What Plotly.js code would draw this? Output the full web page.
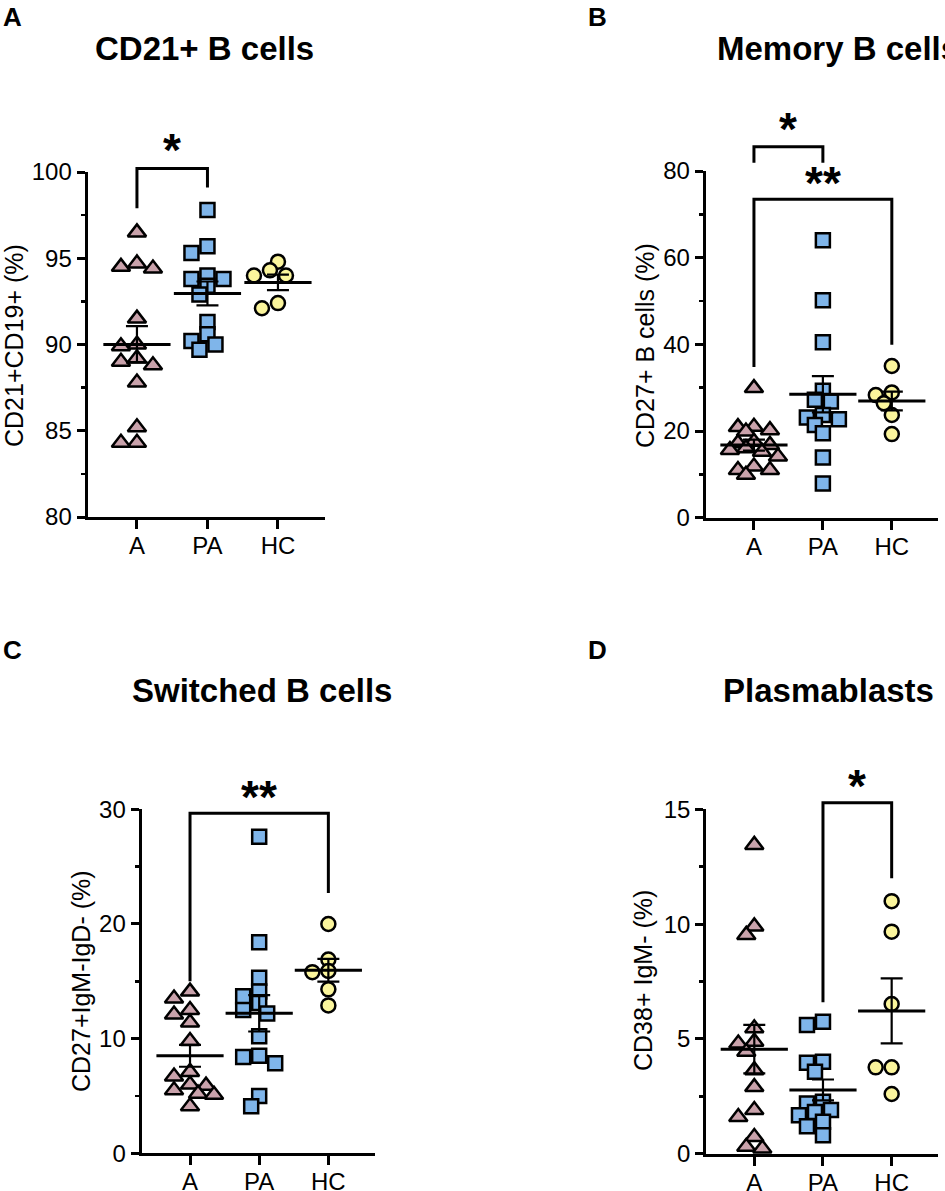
<!DOCTYPE html>
<html><head><meta charset="utf-8">
<script src="https://cdn.plot.ly/plotly-3.0.1.min.js"></script>
<style>html,body{margin:0;padding:0;background:#fff}#chart{width:945px;height:1191px}</style>
</head><body><div id="chart"></div>
<script>
// ---------- data ----------
const groups = ['A', 'PA', 'HC'];

// Panel A: CD21+ B cells  (CD21+CD19+ %)
const cd21_A  = [96.5, 94.7, 94.5, 94.4, 91.5, 90.0, 89.9, 89.2, 89.0, 88.8, 87.8, 85.2, 84.3, 84.3];
const cd21_PA = [97.8, 95.7, 95.3, 94.0, 93.8, 93.8, 93.4, 92.9, 91.3, 90.6, 90.2, 90.0, 89.7];
const cd21_HC = [94.8, 94.3, 94.0, 94.0, 92.4, 92.1];

// Panel B: Memory B cells  (CD27+ B cells %)
const mem_A  = [29.9, 21.0, 20.9, 20.2, 19.9, 17.5, 17.2, 16.8, 16.0, 15.6, 15.2, 14.1, 11.8, 11.0, 11.0, 9.9];
const mem_PA = [64.0, 50.2, 40.5, 29.3, 27.2, 26.8, 23.7, 23.1, 22.7, 21.4, 19.5, 13.9, 7.9];
const mem_HC = [35.0, 28.9, 28.3, 26.4, 23.7, 19.3];

// Panel C: Switched B cells  (CD27+IgM-IgD- %)
const sw_A  = [14.1, 13.5, 12.5, 12.1, 11.4, 9.8, 7.1, 6.7, 6.0, 5.9, 5.5, 5.2, 5.1, 4.1];
const sw_PA = [27.6, 18.4, 15.3, 14.1, 13.7, 13.1, 12.5, 12.2, 10.2, 8.5, 8.4, 7.85, 5.0, 4.1];
const sw_HC = [20.0, 16.9, 15.9, 15.8, 14.3, 12.9];

// Panel D: Plasmablasts  (CD38+ IgM- %)
const pb_A  = [13.45, 9.9, 9.53, 5.46, 4.88, 4.8, 4.44, 3.64, 2.9, 1.9, 1.6, 0.73, 0.3, 0.23];
const pb_PA = [5.75, 5.6, 4.0, 3.96, 3.57, 2.26, 2.19, 1.9, 1.82, 1.68, 1.39, 1.2, 0.8];
const pb_HC = [11.0, 9.67, 6.52, 3.76, 3.76, 2.6];

// y tick values
const yTicksA = [80, 85, 90, 95, 100];  const yMinorA = [82.5, 87.5, 92.5, 97.5];
const yTicksB = [0, 20, 40, 60, 80];    const yMinorB = [10, 30, 50, 70];
const yTicksC = [0, 10, 20, 30];        const yMinorC = [5, 15, 25];
const yTicksD = [0, 5, 10, 15];         const yMinorD = [2.5, 7.5, 12.5];

// significance brackets: group indices, bracket level, leg ends, label level (data units)
const sigA = [{from: 0, to: 1, level: 100.2, end0: 97.9, end1: 99.1, text: '*',  textLevel: 101.6}];
const sigB = [{from: 0, to: 1, level: 85.6,  end0: 81.9, end1: 81.9, text: '*',  textLevel: 91.1},
              {from: 0, to: 2, level: 73.5,  end0: 34.8, end1: 39.9, text: '**', textLevel: 78.6}];
const sigC = [{from: 0, to: 2, level: 29.65, end0: 15.0, end1: 22.7, text: '**', textLevel: 31.6}];
const sigD = [{from: 1, to: 2, level: 15.29, end0: 6.6,  end1: 12.0, text: '*',  textLevel: 16.28}];

// ---------- layout geometry (pixels) ----------
const W = 945, H = 1191;
const FONT = 'Liberation Sans, Arial, Helvetica, sans-serif';
const XR = [-0.7, 2.67];
const panels = [
  {letter: 'A', title: 'CD21+ B cells',   ytitle: 'CD21+CD19+ (%)',    data: [cd21_A, cd21_PA, cd21_HC],
   xL: 87.6, xR: 325.2, yB: 517, yT: 172, ymin: 80, ymax: 100, ticks: yTicksA, minor: yMinorA, sig: sigA,
   letterPos: [12, 17], titlePos: [204, 48], ytitlePos: [14, 346]},
  {letter: 'B', title: 'Memory B cells',  ytitle: 'CD27+ B cells (%)', data: [mem_A, mem_PA, mem_HC],
   xL: 705.7, xR: 938, yB: 517.7, yT: 171, ymin: 0, ymax: 80, ticks: yTicksB, minor: yMinorB, sig: sigB,
   letterPos: [597, 17], titlePos: [838, 48], ytitlePos: [645, 346]},
  {letter: 'C', title: 'Switched B cells', ytitle: 'CD27+IgM-IgD- (%)', data: [sw_A, sw_PA, sw_HC],
   xL: 141.6, xR: 374.7, yB: 1153.3, yT: 809.3, ymin: 0, ymax: 30, ticks: yTicksC, minor: yMinorC, sig: sigC,
   letterPos: [12, 650], titlePos: [262, 690], ytitlePos: [81, 981]},
  {letter: 'D', title: 'Plasmablasts',    ytitle: 'CD38+ IgM- (%)',    data: [pb_A, pb_PA, pb_HC],
   xL: 706.2, xR: 937.7, yB: 1153.7, yT: 809.3, ymin: 0, ymax: 15, ticks: yTicksD, minor: yMinorD, sig: sigD,
   letterPos: [597, 650], titlePos: [828, 690], ytitlePos: [643, 981]}
];

const symbols = ['triangle-up', 'square', 'circle'];
const fills = ['#c9a2ab', '#7fb5ea', '#fbf59c'];
const msize = [16, 14, 14];

function mean(a) { return a.reduce((s, v) => s + v, 0) / a.length; }
function sem(a) {
  const m = mean(a);
  const sd = Math.sqrt(a.reduce((s, v) => s + (v - m) * (v - m), 0) / (a.length - 1));
  return sd / Math.sqrt(a.length);
}
// compact beeswarm: horizontal offsets (category units); markers may overlap partly,
// spread limited to +/- maxSteps
function swarm(vals, ppu, pxPerCat, dist, step, maxSteps) {
  const order = vals.map((v, i) => i).sort((a, b) => vals[b] - vals[a]);
  const placed = [], off = new Array(vals.length).fill(0);
  order.forEach(i => {
    const y = vals[i] * ppu;
    let best = null, bestD = -1;
    for (let k = 0; k <= 2 * maxSteps; k++) {
      const m = k === 0 ? 0 : (k % 2 === 1 ? -Math.ceil(k / 2) : Math.ceil(k / 2));
      const x = m * step;
      const dmin = placed.length ? Math.min(...placed.map(p => Math.hypot(p.x - x, p.y - y))) : Infinity;
      if (dmin >= dist) { best = x; break; }
      if (dmin > bestD + 0.5) { bestD = dmin; best = x; }
    }
    placed.push({x: best, y}); off[i] = best / pxPerCat;
  });
  return off;
}

const traces = [], shapes = [], annotations = [];
const layout = {
  width: W, height: H, margin: {l: 0, r: 0, t: 0, b: 0},
  paper_bgcolor: '#fff', plot_bgcolor: 'rgba(0,0,0,0)', showlegend: false,
  font: {family: FONT, color: '#000'}
};

panels.forEach((pn, i) => {
  const s = i === 0 ? '' : String(i + 1);
  const ppu = (pn.yB - pn.yT) / (pn.ymax - pn.ymin);
  const pxPerCat = (pn.xR - pn.xL) / (XR[1] - XR[0]);
  const toPaperY = v => 1 - (pn.yB - (v - pn.ymin) * ppu) / H;

  layout['xaxis' + s] = {
    domain: [pn.xL / W, pn.xR / W], range: XR, anchor: 'y' + s,
    tickmode: 'array', tickvals: groups.map((g, k) => k), ticktext: groups,
    ticks: 'outside', ticklen: 9, tickwidth: 3, tickcolor: '#000', ticklabelstandoff: -4,
    showline: true, linewidth: 3, linecolor: '#000', showgrid: false, zeroline: false,
    tickfont: {family: FONT, size: 24, color: '#000'}, fixedrange: true
  };
  layout['yaxis' + s] = {
    domain: [1 - pn.yB / H, 1 - pn.yT / H], range: [pn.ymin, pn.ymax], anchor: 'x' + s,
    tickmode: 'array', tickvals: pn.ticks, ticktext: pn.ticks.map(String),
    ticks: 'outside', ticklen: 8, tickwidth: 3, tickcolor: '#000',
    showline: true, linewidth: 3, linecolor: '#000', showgrid: false, zeroline: false,
    tickfont: {family: FONT, size: 24, color: '#000'}, fixedrange: true,
    minor: {tickmode: 'array', tickvals: pn.minor, ticks: 'outside', ticklen: 4, tickwidth: 2.5, tickcolor: '#000', showgrid: false}
  };

  pn.data.forEach((vals, g) => {
    const off = swarm(vals, ppu, pxPerCat, 11, 8, 3);
    traces.push({
      type: 'scatter', mode: 'markers', xaxis: 'x' + s, yaxis: 'y' + s,
      x: vals.map((v, k) => g + off[k]), y: vals, cliponaxis: false, hoverinfo: 'skip',
      marker: {symbol: symbols[g], size: msize[g], color: fills[g], line: {color: '#000', width: 2.5}}
    });
  });
  pn.data.forEach((vals, g) => {
    traces.push({
      type: 'scatter', mode: 'markers', xaxis: 'x' + s, yaxis: 'y' + s,
      x: [g], y: [mean(vals)], cliponaxis: false, hoverinfo: 'skip',
      marker: {symbol: 'line-ew', size: 48, color: '#000', line: {color: '#000', width: 3}},
      error_y: {type: 'data', array: [sem(vals)], visible: true, color: '#000', thickness: 2.2, width: 11}
    });
  });

  pn.sig.forEach(b => {
    shapes.push({
      type: 'path', xref: 'x' + s, yref: 'paper', layer: 'above',
      path: `M ${b.from},${toPaperY(b.end0)} L ${b.from},${toPaperY(b.level)} L ${b.to},${toPaperY(b.level)} L ${b.to},${toPaperY(b.end1)}`,
      line: {color: '#000', width: 3}
    });
    annotations.push({
      xref: 'x' + s, yref: 'paper', x: (b.from + b.to) / 2, y: toPaperY(b.textLevel),
      text: '<b>' + b.text + '</b>', showarrow: false, xanchor: 'center', yanchor: 'middle', yshift: -6,
      font: {family: FONT, size: 46, color: '#000'}
    });
  });

  annotations.push({xref: 'paper', yref: 'paper', x: pn.letterPos[0] / W, y: 1 - pn.letterPos[1] / H,
    text: '<b>' + pn.letter + '</b>', showarrow: false, xanchor: 'center', yanchor: 'middle',
    font: {family: FONT, size: 26, color: '#000'}});
  annotations.push({xref: 'paper', yref: 'paper', x: pn.titlePos[0] / W, y: 1 - pn.titlePos[1] / H,
    text: '<b>' + pn.title + '</b>', showarrow: false, xanchor: 'center', yanchor: 'middle',
    font: {family: FONT, size: 33, color: '#000'}});
  annotations.push({xref: 'paper', yref: 'paper', x: pn.ytitlePos[0] / W, y: 1 - pn.ytitlePos[1] / H,
    text: pn.ytitle, showarrow: false, xanchor: 'center', yanchor: 'middle', textangle: -90,
    font: {family: FONT, size: 25, color: '#000'}});
});

layout.shapes = shapes;
layout.annotations = annotations;
Plotly.newPlot('chart', traces, layout, {staticPlot: true, displayModeBar: false});
</script>
</body></html>
